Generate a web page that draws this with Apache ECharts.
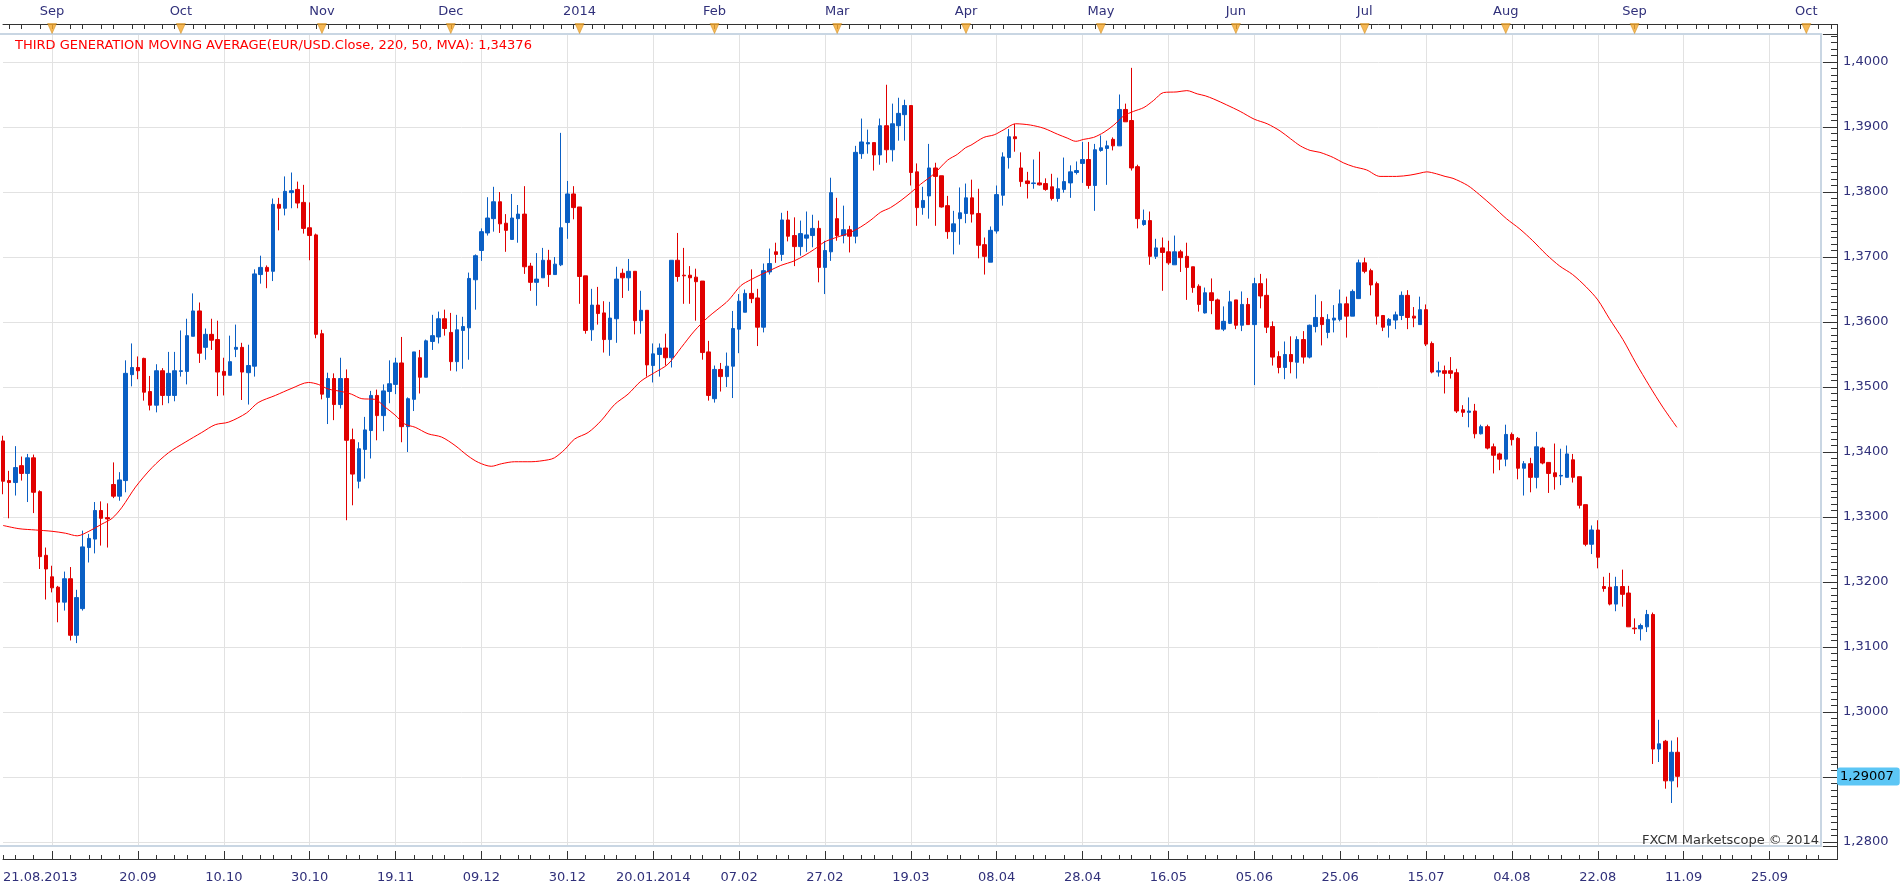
<!DOCTYPE html>
<html>
<head>
<meta charset="utf-8">
<title>EUR/USD</title>
<script src="https://cdn.jsdelivr.net/npm/echarts@6/dist/echarts.min.js"></script>
<style>
  html, body { margin: 0; padding: 0; background: #fff; }
  #chart { width: 1903px; height: 889px; }
</style>
</head>
<body>
<div id="chart"></div>
<script>
// EUR/USD daily candles, 21.08.2013 .. 10.09.2014
const opens = [
  1.3417,1.3356,1.3353,1.3379,1.3367,1.3391,1.3339,1.3241,1.3208,1.3192,
  1.3169,1.3205,1.3118,1.3159,1.3253,1.3266,1.3310,1.3299,1.3350,1.3332,
  1.3356,1.3519,1.3530,1.3544,1.3493,1.3472,1.3525,1.3487,1.3487,1.3524,
  1.3524,1.3578,1.3617,1.3561,1.3581,1.3573,1.3524,1.3518,1.3558,1.3561,
  1.3522,1.3532,1.3673,1.3684,1.3678,1.3781,1.3775,1.3799,1.3804,1.3784,
  1.3745,1.3734,1.3582,1.3484,1.3513,1.3473,1.3513,1.3419,1.3355,1.3404,
  1.3433,1.3487,1.3456,1.3493,1.3504,1.3537,1.3439,1.3481,1.3545,1.3515,
  1.3570,1.3577,1.3605,1.3584,1.3539,1.3587,1.3591,1.3665,1.3710,1.3737,
  1.3759,1.3785,1.3752,1.3727,1.3759,1.3766,1.3686,1.3661,1.3668,1.3695,
  1.3673,1.3688,1.3753,1.3797,1.3777,1.3671,1.3588,1.3626,1.3614,1.3573,
  1.3605,1.3675,1.3668,1.3678,1.3602,1.3618,1.3533,1.3550,1.3560,1.3545,
  1.3695,1.3672,1.3672,1.3669,1.3663,1.3554,1.3482,1.3527,1.3516,1.3532,
  1.3589,1.3615,1.3644,1.3637,1.3592,1.3677,1.3708,1.3704,1.3757,1.3733,
  1.3716,1.3729,1.3733,1.3744,1.3684,1.3708,1.3759,1.3733,1.3742,1.3732,
  1.3859,1.3874,1.3876,1.3857,1.3902,1.3865,1.3902,1.3919,1.3933,1.3831,
  1.3776,1.3794,1.3837,1.3825,1.3779,1.3739,1.3759,1.3767,1.3791,1.3767,
  1.3719,1.3692,1.3740,1.3795,1.3853,1.3885,1.3837,1.3817,1.3813,1.3814,
  1.3813,1.3808,1.3790,1.3804,1.3814,1.3830,1.3844,1.3850,1.3810,1.3864,
  1.3867,1.3881,1.3871,1.3927,1.3910,1.3839,1.3750,1.3756,1.3701,1.3714,
  1.3708,1.3688,1.3708,1.3701,1.3685,1.3655,1.3614,1.3645,1.3634,1.3589,
  1.3598,1.3634,1.3595,1.3627,1.3596,1.3659,1.3641,1.3593,1.3547,1.3530,
  1.3550,1.3538,1.3573,1.3546,1.3593,1.3607,1.3584,1.3603,1.3604,1.3628,
  1.3609,1.3636,1.3691,1.3679,1.3659,1.3610,1.3595,1.3603,1.3610,1.3641,
  1.3609,1.3596,1.3619,1.3567,1.3523,1.3525,1.3525,1.3522,1.3465,1.3461,
  1.3463,1.3428,1.3439,1.3408,1.3397,1.3389,1.3427,1.3421,1.3375,1.3382,
  1.3361,1.3406,1.3384,1.3368,1.3363,1.3361,1.3388,1.3362,1.3319,1.3258,
  1.3280,1.3193,1.3192,1.3166,1.3193,1.3183,1.3129,1.3128,1.3131,1.3150,
  1.2943,1.2955,1.2894,1.2938
];
const closes = [
  1.3355,1.3353,1.3376,1.3367,1.3391,1.3338,1.3239,1.3220,1.3191,1.3169,
  1.3205,1.3118,1.3176,1.3254,1.3267,1.3310,1.3298,1.3297,1.3332,1.3357,
  1.3521,1.3530,1.3525,1.3492,1.3472,1.3525,1.3487,1.3521,1.3525,1.3525,
  1.3579,1.3617,1.3552,1.3581,1.3572,1.3523,1.3518,1.3539,1.3561,1.3523,
  1.3533,1.3674,1.3684,1.3678,1.3781,1.3775,1.3801,1.3802,1.3783,1.3744,
  1.3733,1.3581,1.3489,1.3513,1.3473,1.3513,1.3418,1.3366,1.3405,1.3434,
  1.3487,1.3456,1.3494,1.3505,1.3537,1.3439,1.3482,1.3554,1.3515,1.3571,
  1.3579,1.3605,1.3590,1.3539,1.3588,1.3593,1.3667,1.3702,1.3739,1.3760,
  1.3785,1.3751,1.3741,1.3760,1.3766,1.3685,1.3661,1.3666,1.3695,1.3673,
  1.3689,1.3745,1.3797,1.3776,1.3670,1.3587,1.3626,1.3613,1.3573,1.3606,
  1.3666,1.3668,1.3678,1.3602,1.3618,1.3534,1.3551,1.3560,1.3545,1.3695,
  1.3670,1.3671,1.3668,1.3662,1.3553,1.3487,1.3527,1.3516,1.3532,1.3590,
  1.3632,1.3644,1.3636,1.3592,1.3679,1.3690,1.3704,1.3757,1.3732,1.3716,
  1.3736,1.3734,1.3744,1.3684,1.3710,1.3799,1.3733,1.3742,1.3732,1.3861,
  1.3877,1.3876,1.3857,1.3902,1.3865,1.3905,1.3921,1.3933,1.3830,1.3776,
  1.3787,1.3837,1.3824,1.3777,1.3739,1.3751,1.3768,1.3791,1.3766,1.3718,
  1.3701,1.3741,1.3796,1.3854,1.3885,1.3882,1.3816,1.3813,1.3814,1.3811,
  1.3804,1.3790,1.3805,1.3816,1.3831,1.3833,1.3850,1.3810,1.3865,1.3868,
  1.3871,1.3871,1.3927,1.3908,1.3837,1.3759,1.3756,1.3701,1.3714,1.3707,
  1.3691,1.3708,1.3699,1.3684,1.3653,1.3627,1.3645,1.3633,1.3589,1.3601,
  1.3631,1.3595,1.3627,1.3596,1.3659,1.3640,1.3592,1.3546,1.3530,1.3550,
  1.3539,1.3573,1.3546,1.3595,1.3607,1.3596,1.3604,1.3606,1.3628,1.3609,
  1.3647,1.3691,1.3678,1.3657,1.3609,1.3592,1.3604,1.3611,1.3641,1.3607,
  1.3606,1.3619,1.3566,1.3523,1.3525,1.3521,1.3521,1.3463,1.3461,1.3463,
  1.3428,1.3439,1.3406,1.3395,1.3389,1.3427,1.3419,1.3375,1.3382,1.3361,
  1.3408,1.3383,1.3367,1.3362,1.3364,1.3397,1.3361,1.3318,1.3258,1.3280,
  1.3238,1.3190,1.3166,1.3193,1.3181,1.3131,1.3128,1.3133,1.3150,1.2943,
  1.2951,1.2894,1.2938,1.2901
];
const lows = [
  1.3335,1.3298,1.3333,1.3356,1.3323,1.3306,1.3220,1.3173,1.3184,1.3138,
  1.3156,1.3110,1.3106,1.3156,1.3230,1.3244,1.3256,1.3253,1.3329,1.3325,
  1.3338,1.3501,1.3512,1.3479,1.3464,1.3461,1.3472,1.3475,1.3478,1.3516,
  1.3504,1.3578,1.3537,1.3542,1.3557,1.3486,1.3487,1.3518,1.3546,1.3480,
  1.3473,1.3516,1.3659,1.3652,1.3663,1.3741,1.3764,1.3775,1.3775,1.3736,
  1.3695,1.3575,1.3481,1.3443,1.3449,1.3467,1.3295,1.3318,1.3344,1.3359,
  1.3390,1.3418,1.3432,1.3475,1.3489,1.3415,1.3400,1.3463,1.3490,1.3515,
  1.3557,1.3567,1.3579,1.3525,1.3524,1.3528,1.3542,1.3619,1.3694,1.3733,
  1.3739,1.3737,1.3708,1.3727,1.3722,1.3674,1.3648,1.3625,1.3668,1.3654,
  1.3673,1.3686,1.3728,1.3758,1.3628,1.3582,1.3571,1.3596,1.3553,1.3548,
  1.3568,1.3637,1.3648,1.3581,1.3582,1.3516,1.3507,1.3516,1.3533,1.3530,
  1.3662,1.3628,1.3628,1.3602,1.3542,1.3479,1.3476,1.3493,1.3500,1.3483,
  1.3552,1.3615,1.3629,1.3563,1.3584,1.3673,1.3691,1.3694,1.3724,1.3686,
  1.3702,1.3708,1.3715,1.3661,1.3643,1.3694,1.3725,1.3721,1.3707,1.3721,
  1.3851,1.3859,1.3833,1.3842,1.3845,1.3847,1.3879,1.3879,1.3810,1.3748,
  1.3765,1.3759,1.3748,1.3776,1.3728,1.3704,1.3719,1.3752,1.3753,1.3698,
  1.3673,1.3692,1.3736,1.3779,1.3836,1.3862,1.3808,1.3790,1.3805,1.3810,
  1.3802,1.3787,1.3785,1.3799,1.3791,1.3827,1.3814,1.3805,1.3771,1.3862,
  1.3811,1.3864,1.3871,1.3908,1.3833,1.3744,1.3748,1.3688,1.3697,1.3648,
  1.3688,1.3688,1.3677,1.3634,1.3645,1.3616,1.3613,1.3612,1.3589,1.3586,
  1.3597,1.3589,1.3586,1.3596,1.3503,1.3621,1.3583,1.3533,1.3521,1.3512,
  1.3521,1.3513,1.3536,1.3544,1.3584,1.3564,1.3575,1.3584,1.3601,1.3576,
  1.3609,1.3636,1.3675,1.3641,1.3596,1.3586,1.3576,1.3589,1.3603,1.3589,
  1.3592,1.3596,1.3563,1.3521,1.3516,1.3490,1.3513,1.3460,1.3454,1.3438,
  1.3421,1.3427,1.3404,1.3367,1.3372,1.3378,1.3410,1.3358,1.3333,1.3338,
  1.3344,1.3381,1.3337,1.3342,1.3349,1.3361,1.3353,1.3313,1.3255,1.3243,
  1.3221,1.3185,1.3164,1.3155,1.3162,1.3131,1.3120,1.3110,1.3123,1.2920,
  1.2923,1.2882,1.2860,1.2884
];
const highs = [
  1.3425,1.3371,1.3409,1.3393,1.3397,1.3396,1.3341,1.3253,1.3225,1.3194,
  1.3216,1.3223,1.3188,1.3279,1.3274,1.3323,1.3324,1.3321,1.3384,1.3369,
  1.3541,1.3567,1.3547,1.3545,1.3517,1.3535,1.3529,1.3554,1.3554,1.3587,
  1.3605,1.3644,1.3630,1.3590,1.3605,1.3602,1.3545,1.3579,1.3596,1.3568,
  1.3565,1.3681,1.3702,1.3687,1.3790,1.3791,1.3824,1.3830,1.3816,1.3811,
  1.3784,1.3736,1.3588,1.3522,1.3521,1.3545,1.3527,1.3436,1.3415,1.3454,
  1.3494,1.3496,1.3504,1.3541,1.3545,1.3577,1.3484,1.3554,1.3557,1.3573,
  1.3611,1.3616,1.3619,1.3614,1.3611,1.3608,1.3676,1.3704,1.3744,1.3792,
  1.3808,1.3800,1.3766,1.3797,1.3780,1.3809,1.3691,1.3706,1.3714,1.3711,
  1.3700,1.3891,1.3817,1.3809,1.3777,1.3671,1.3651,1.3654,1.3632,1.3631,
  1.3685,1.3682,1.3697,1.3678,1.3648,1.3618,1.3567,1.3567,1.3582,1.3695,
  1.3737,1.3714,1.3686,1.3682,1.3663,1.3571,1.3533,1.3537,1.3553,1.3617,
  1.3643,1.3650,1.3681,1.3651,1.3690,1.3713,1.3722,1.3768,1.3771,1.3761,
  1.3756,1.3770,1.3765,1.3756,1.3725,1.3822,1.3791,1.3779,1.3748,1.3871,
  1.3913,1.3896,1.3876,1.3913,1.3965,1.3936,1.3945,1.3942,1.3933,1.3844,
  1.3808,1.3874,1.3845,1.3825,1.3794,1.3771,1.3807,1.3813,1.3819,1.3805,
  1.3730,1.3747,1.3810,1.3861,1.3897,1.3905,1.3861,1.3831,1.3850,1.3862,
  1.3821,1.3828,1.3822,1.3853,1.3841,1.3847,1.3877,1.3877,1.3874,1.3887,
  1.3879,1.3884,1.3950,1.3936,1.3991,1.3842,1.3773,1.3770,1.3728,1.3730,
  1.3725,1.3733,1.3711,1.3722,1.3685,1.3658,1.3653,1.3667,1.3636,1.3624,
  1.3648,1.3634,1.3647,1.3637,1.3668,1.3674,1.3667,1.3601,1.3555,1.3570,
  1.3578,1.3578,1.3586,1.3596,1.3642,1.3632,1.3612,1.3626,1.3650,1.3639,
  1.3650,1.3696,1.3699,1.3682,1.3662,1.3610,1.3606,1.3616,1.3647,1.3649,
  1.3623,1.3639,1.3627,1.3570,1.3539,1.3533,1.3546,1.3528,1.3472,1.3484,
  1.3474,1.3442,1.3442,1.3413,1.3399,1.3442,1.3430,1.3423,1.3386,1.3391,
  1.3431,1.3408,1.3384,1.3413,1.3405,1.3410,1.3397,1.3362,1.3319,1.3287,
  1.3295,1.3208,1.3214,1.3208,1.3219,1.3194,1.3144,1.3136,1.3157,1.3153,
  1.2988,1.2957,1.2956,1.2961
];

// Third generation moving average, read at bar positions (bar index, value)
const maIndex = [
  0,2.6,5.3,8,10.2,12.1,14,16.1,17.8,19.4,21.6,24.3,27,29.7,32.4,34.6,36.8,39.7,
  41.6,44.4,47.1,49.8,51.4,53,55.2,56.8,58.5,60.6,62.3,63.9,65.5,67.2,69.3,71.5,73.7,75.8,77.5,
  79.6,81.3,83.4,86.1,88.9,89.9,91.6,93.2,95.4,97.5,99.7,101.9,104,106.2,108.4,110.6,112.7,114.9,117.9,
  118.7,120.3,121.9,123.6,125.2,126.8,129,130.6,132.3,133.9,135.5,137.7,139.8,141.5,143.1,144.7,146.4,148,149.6,151.8,154,155.6,156.9,
  157.8,159.9,161.6,163.2,165.1,167.5,169.7,171.9,173.5,174.9,176.2,177.8,179.5,181.1,182.7,184.3,186,187.6,189.2,191.4,193,194.7,196,
  197.4,199.5,201.7,204,206.1,208.2,209.9,211.5,213.1,214.7,216.9,218.5,220.2,222.3,224.5,227.2,229.4,231,232.1,233.7,235.1,
  236.4,238.8,240.7,242.9,245.1,247.3,249.4,251.6,253.8,255.9,258.1,260,261.9,264.1,266.2,268.4,270.6,272.9
];
const maValue = [
  1.3287,1.3282,1.3280,1.3278,1.3275,1.3271,1.3278,1.3289,1.3298,1.3315,1.3346,1.3376,1.3399,1.3415,1.3430,1.3442,1.3446,1.3460,
  1.3476,1.3487,1.3498,1.3507,1.3504,1.3497,1.3493,1.3489,1.3482,1.3481,1.3469,1.3457,1.3443,1.3438,1.3428,1.3423,1.3410,1.3394,1.3384,
  1.3378,1.3382,1.3385,1.3385,1.3388,1.3391,1.3404,1.3420,1.3430,1.3448,1.3473,1.3489,1.3509,1.3522,1.3535,1.3561,1.3586,1.3607,1.3630,
  1.3638,1.3656,1.3665,1.3673,1.3680,1.3687,1.3694,1.3702,1.3712,1.3723,1.3729,1.3736,1.3746,1.3757,1.3769,1.3776,1.3787,1.3799,1.3812,1.3828,1.3849,1.3858,1.3868,
  1.3872,1.3884,1.3888,1.3896,1.3905,1.3903,1.3898,1.3889,1.3883,1.3878,1.3881,1.3884,1.3892,1.3903,1.3917,1.3924,1.3930,1.3941,1.3953,1.3954,1.3956,1.3951,1.3948,
  1.3943,1.3934,1.3924,1.3912,1.3905,1.3894,1.3882,1.3871,1.3864,1.3861,1.3853,1.3845,1.3839,1.3834,1.3824,1.3824,1.3826,1.3829,1.3831,1.3828,1.3824,
  1.3821,1.3810,1.3796,1.3778,1.3759,1.3743,1.3725,1.3704,1.3686,1.3673,1.3654,1.3634,1.3605,1.3573,1.3537,1.3502,1.3469,1.3438
];
const maLast = 1.34376;
const lastPrice = 1.29007;

// axis text
const bottomLabelDates = ['21.08.2013','20.09.2013','10.10.2013','30.10.2013','19.11.2013','09.12.2013','30.12.2013',
  '20.01.2014','07.02.2014','27.02.2014','19.03.2014','08.04.2014','28.04.2014','16.05.2014','05.06.2014',
  '25.06.2014','15.07.2014','04.08.2014','22.08.2014','11.09.2014','25.09.2014'];
const bottomLabelTexts = ['21.08.2013','20.09','10.10','30.10','19.11','09.12','30.12',
  '20.01.2014','07.02','27.02','19.03','08.04','28.04','16.05','05.06',
  '25.06','15.07','04.08','22.08','11.09','25.09'];
const gridDates = ['02.09.2013'].concat(bottomLabelDates.slice(1));
const monthStartDates = ['02.09.2013','01.10.2013','01.11.2013','02.12.2013','02.01.2014','03.02.2014','03.03.2014',
  '01.04.2014','01.05.2014','02.06.2014','01.07.2014','01.08.2014','01.09.2014','01.10.2014'];
const monthLabels = ['Sep','Oct','Nov','Dec','2014','Feb','Mar','Apr','May','Jun','Jul','Aug','Sep','Oct'];
const yMin = 1.27938, yMax = 1.40431;

// trading days (no weekends, no 25.12 / 01.01), then calendar days after the last bar
const holidays = ['25.12.2013', '01.01.2014'];
const categoryCount = 300;
function fmtDate(d) {
  const p = n => String(n).padStart(2, '0');
  return p(d.getUTCDate()) + '.' + p(d.getUTCMonth() + 1) + '.' + d.getUTCFullYear();
}
const categories = [];
(function () {
  const d = new Date(Date.UTC(2013, 7, 21));
  while (categories.length < categoryCount) {
    const s = fmtDate(d);
    const wd = d.getUTCDay();
    const future = categories.length >= opens.length;
    if (future || (wd !== 0 && wd !== 6 && holidays.indexOf(s) < 0)) categories.push(s);
    d.setUTCDate(d.getUTCDate() + 1);
  }
})();

const candles = opens.map((o, i) => [o, closes[i], lows[i], highs[i]]);
const maData = maIndex.map((x, i) => [x, maValue[i]]);
const labelMap = {};
bottomLabelDates.forEach((d, i) => { labelMap[d] = bottomLabelTexts[i]; });
const monthMap = {};
monthStartDates.forEach((d, i) => { monthMap[d] = monthLabels[i]; });
const gridSet = new Set(gridDates);
const firstGrid = categories.indexOf(gridDates[0]);

const fmtPrice = (v, n) => v.toFixed(n).replace('.', ',');
const FONT = 'DejaVu Sans';
const AXIS_TXT = '#30307a';
const GRID_CLR = '#e2e2e2';

const chart = echarts.init(document.getElementById('chart'));
chart.setOption({
  animation: false,
  backgroundColor: '#ffffff',
  textStyle: { fontFamily: FONT },
  title: [
    {
      text: 'THIRD GENERATION MOVING AVERAGE(EUR/USD.Close, 220, 50, MVA): ' + fmtPrice(maLast, 5),
      left: 10, top: 34,
      textStyle: { color: '#ff0000', fontSize: 13, fontWeight: 'normal', fontFamily: FONT }
    },
    {
      text: 'FXCM Marketscope © 2014',
      right: 79, top: 829,
      textStyle: { color: '#333333', fontSize: 13, fontWeight: 'normal', fontFamily: FONT }
    }
  ],
  grid: { left: 1, right: 66, top: 34, bottom: 43, containLabel: false },
  xAxis: [
    {
      type: 'category', data: categories, boundaryGap: false, position: 'bottom', offset: 13,
      axisLine: { onZero: false, lineStyle: { color: '#333333', width: 1 } },
      axisTick: { inside: true, length: 8, interval: (i, v) => gridSet.has(v), lineStyle: { color: '#333333' } },
      axisLabel: {
        interval: (i, v) => labelMap[v] !== undefined,
        formatter: v => labelMap[v] || '',
        color: AXIS_TXT, fontSize: 13, margin: 12, fontFamily: FONT,
        alignMinLabel: 'left'
      },
      splitLine: { show: true, interval: (i, v) => gridSet.has(v), lineStyle: { color: GRID_CLR, width: 1 } }
    },
    {
      type: 'category', data: categories, boundaryGap: false, position: 'bottom', offset: 13,
      axisLine: { show: false, onZero: false },
      axisTick: {
        inside: true, length: 4,
        interval: i => [3, 6, 8, 11].indexOf((((i - firstGrid) % 14) + 14) % 14) >= 0,
        lineStyle: { color: '#333333' }
      },
      axisLabel: { show: false },
      splitLine: { show: false }
    },
    {
      type: 'category', data: categories, boundaryGap: false, position: 'top', offset: 10,
      axisLine: { onZero: false, lineStyle: { color: '#333333', width: 1 } },
      axisTick: { inside: true, length: 5, interval: i => i % 5 === 1 || i % 5 === 3, lineStyle: { color: '#333333' } },
      axisLabel: {
        interval: (i, v) => monthMap[v] !== undefined,
        formatter: v => monthMap[v] || '',
        color: AXIS_TXT, fontSize: 13, margin: 6, fontFamily: FONT
      },
      splitLine: { show: false }
    },
    { type: 'value', min: 0, max: categoryCount - 1, show: false, axisLine: { onZero: false } }
  ],
  yAxis: [
    {
      type: 'value', position: 'right', min: yMin, max: yMax, splitNumber: 12, scale: true,
      axisLine: { show: true, onZero: false, lineStyle: { color: '#333333', width: 1 } },
      axisTick: { show: true, inside: true, length: 14, lineStyle: { color: '#333333' } },
      minorTick: { show: true, splitNumber: 10, length: 6, lineStyle: { color: '#333333' } },
      axisLabel: {
        formatter: v => fmtPrice(v, 4), color: AXIS_TXT, fontSize: 13, margin: 6, fontFamily: FONT,
        showMinLabel: false, showMaxLabel: false
      },
      splitLine: { show: true, lineStyle: { color: GRID_CLR, width: 1 } },
      axisPointer: {
        show: true, type: 'line', value: lastPrice, status: 'show', triggerTooltip: false,
        lineStyle: { opacity: 0 },
        label: {
          show: true, formatter: p => fmtPrice(p.value, 5),
          backgroundColor: '#5cc6f5', color: '#000000', fontSize: 13, fontFamily: FONT,
          padding: [3, 6, 2, 3], margin: 0
        }
      }
    },
    { type: 'value', min: 0, max: 1, show: false, axisLine: { onZero: false } }
  ],
  graphic: [
    {
      type: 'rect', silent: true, z: 1,
      shape: { x: -3, y: 34, width: 1824, height: 812 },
      style: { fill: 'none', stroke: '#c9d6e3', lineWidth: 2 }
    },
    {
      type: 'line', silent: true, z: 1,
      shape: { x1: 1837.5, y1: 24, x2: 1837.5, y2: 860 },
      style: { stroke: '#333333', lineWidth: 1 }
    }
  ],
  series: [
    {
      name: 'EUR/USD', type: 'candlestick', xAxisIndex: 0, yAxisIndex: 0,
      data: candles, barWidth: 4,
      itemStyle: {
        color: '#0a5fc4', color0: '#e00000',
        borderColor: '#0a5fc4', borderColor0: '#e00000', borderWidth: 1
      }
    },
    {
      name: 'MVA', type: 'line', xAxisIndex: 3, yAxisIndex: 0,
      data: maData, showSymbol: false, smooth: 0.3,
      lineStyle: { color: '#ff0000', width: 1 }, z: 3
    },
    {
      name: 'months', type: 'scatter', xAxisIndex: 0, yAxisIndex: 1, clip: false, silent: true,
      data: monthStartDates.map(d => [categories.indexOf(d), 1]),
      symbol: 'path://M0,0 L10,0 L5,11 Z', symbolSize: [9, 10], symbolOffset: [0, -5.5],
      itemStyle: { color: '#f4a62a', borderColor: '#c98516', borderWidth: 0.6 }, z: 6
    }
  ]
});
</script>
</body>
</html>
